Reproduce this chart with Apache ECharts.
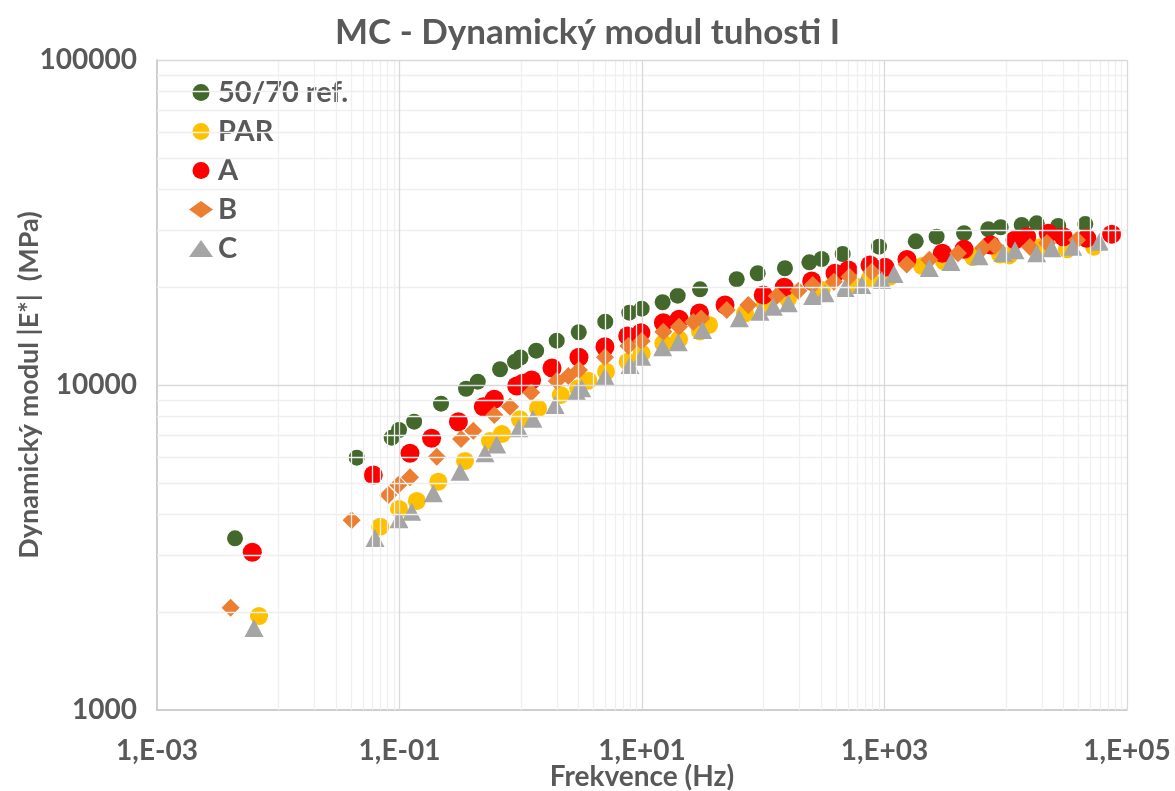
<!DOCTYPE html>
<html><head><meta charset="utf-8">
<script src="https://cdn.jsdelivr.net/npm/echarts@6/dist/echarts.min.js"></script>
<style>html,body{margin:0;padding:0;background:#fff}#c{width:1175px;height:791px}</style>
</head><body><div id="c"></div><script>
// ---- data ----
const chartTitle = 'MC - Dynamický modul tuhosti I';
const xAxisName = 'Frekvence (Hz)';
const yAxisName = 'Dynamický modul |E*|  (MPa)';
const seriesNames = ['50/70 ref.', 'PAR', 'A', 'B', 'C'];

const refFreq = [0.0044, 0.0444, 0.0862, 0.0991, 0.132, 0.220, 0.354, 0.442, 0.675, 0.897, 0.995, 1.34, 1.98, 3.01, 4.98, 7.86, 9.94, 14.8, 19.7, 30.1, 60.4, 90.0, 151, 240, 303, 452, 901, 1810, 2690, 4530, 7180, 9080, 13540, 17990, 27100, 45300];
const refMod  = [3375, 5975, 6884, 7270, 7710, 8760, 9740, 10240, 11180, 11800, 12150, 12750, 13690, 14530, 15660, 16690, 17170, 17970, 18830, 19700, 21150, 22070, 22870, 23850, 24420, 25300, 26640, 27680, 28600, 29300, 30140, 30570, 31070, 31440, 30850, 31280];

const parFreq = [0.00694, 0.0694, 0.0991, 0.139, 0.209, 0.347, 0.558, 0.700, 0.986, 1.39, 2.14, 2.98, 3.61, 5.05, 7.62, 9.94, 15.0, 20.2, 30.1, 35.7, 70.7, 103, 160, 303, 553, 759, 1110, 2040, 3100, 5370, 8970, 10640, 18800, 32000, 53430];
const parMod  = [1946, 3664, 4155, 4397, 5040, 5837, 6725, 7067, 7843, 8467, 9316, 9768, 10310, 10990, 11800, 12520, 13440, 13820, 14610, 15300, 16620, 17630, 18390, 19600, 20320, 21300, 21540, 23240, 23990, 24760, 25200, 25030, 26490, 26150, 26640];

const aFreq = [0.00611, 0.0608, 0.122, 0.184, 0.306, 0.491, 0.605, 0.926, 1.04, 1.23, 1.81, 3.02, 4.95, 7.62, 9.81, 15.0, 20.2, 29.8, 48.4, 100, 149, 251, 391, 503, 759, 1009, 1533, 3000, 4530, 7520, 11920, 14890, 22440, 29830, 46520, 74770];
const aMod  = [3057, 5285, 6164, 6855, 7710, 8575, 9037, 9930, 10120, 10360, 11280, 12170, 13120, 14150, 14480, 15550, 15930, 16660, 17630, 18920, 19980, 20890, 22070, 22590, 23400, 23030, 24330, 25420, 26150, 26960, 27940, 28600, 29300, 28600, 28280, 29090];

const bFreq = [0.00405, 0.0403, 0.0808, 0.0977, 0.122, 0.203, 0.322, 0.406, 0.605, 0.815, 1.22, 1.98, 2.47, 3.02, 4.95, 7.71, 9.94, 15.0, 20.2, 26.5, 30.7, 50.0, 75.3, 129, 195, 256, 383, 513, 784, 1524, 2342, 4038, 6494, 8152, 15850, 21890, 38690];
const bMod  = [2064, 3835, 4586, 4923, 5200, 6018, 6820, 7235, 8085, 8575, 9483, 10290, 10660, 11120, 12170, 13180, 13660, 14590, 15110, 15620, 16020, 17010, 17630, 18790, 19510, 20320, 20790, 21540, 22320, 23490, 24290, 25420, 26400, 26780, 26590, 27350, 27940];

const cFreq = [0.00631, 0.0628, 0.0991, 0.126, 0.190, 0.316, 0.507, 0.633, 0.964, 1.26, 1.92, 2.89, 3.18, 4.95, 7.96, 9.94, 14.8, 19.9, 31.6, 63.5, 94.0, 121, 161, 256, 323, 472, 649, 948, 1198, 2342, 3535, 6018, 9550, 11920, 17990, 23930, 35650, 59290];
const cMod  = [1788, 3382, 3865, 4076, 4643, 5410, 6164, 6560, 7360, 7870, 8680, 9537, 9768, 10640, 11520, 12220, 13060, 13530, 14770, 16040, 16810, 17410, 17840, 18790, 19150, 19880, 20320, 21040, 21960, 22910, 23900, 24900, 25480, 25970, 25420, 26350, 26640, 27600];

const xTickValues = [1e-3, 1e-1, 1e1, 1e3, 1e5];
const xTickLabels = ['1,E-03', '1,E-01', '1,E+01', '1,E+03', '1,E+05'];
const yTickValues = [1000, 10000, 100000];
const yTickLabels = ['1000', '10000', '100000'];

// ---- styling ----
const FONT = 'Lato';
const TXT = '#595959';
const colors = ['#44682C', '#FFC000', '#FF0000', '#ED7D31', '#A5A5A5'];
const symbols = ['circle', 'circle', 'circle', 'diamond', 'triangle'];
const sizes = [16, 18, 19, [18, 18], [19, 18]];

const zip = (a, b) => a.map((v, i) => [v, b[i]]);
const dataSets = [zip(refFreq, refMod), zip(parFreq, parMod), zip(aFreq, aMod), zip(bFreq, bMod), zip(cFreq, cMod)];

// grid lines (Excel style log grid)
const vMajor = [1e-1, 1e1, 1e3, 1e5];
const vMinor = [];
[-2, 0, 2, 4].forEach(k => { for (let m = 1; m <= 9; m++) vMinor.push(m * Math.pow(10, k)); });
const hMajor = [1e4, 1e5];
const hMinor = [];
[3, 4].forEach(k => { for (let m = 2; m <= 9; m++) hMinor.push(m * Math.pow(10, k)); });
const minorStyle = { color: '#efefef', width: 1.3, type: 'solid' };
const majorStyle = { color: '#d9d9d9', width: 1.3, type: 'solid' };
const gridLineData = [
  ...vMinor.map(v => ({ xAxis: v, lineStyle: minorStyle })),
  ...hMinor.map(v => ({ yAxis: v, lineStyle: minorStyle })),
  ...vMajor.map(v => ({ xAxis: v, lineStyle: majorStyle })),
  ...hMajor.map(v => ({ yAxis: v, lineStyle: majorStyle }))
];

function labelFor(values, labels, v) {
  const lv = Math.log10(v);
  for (let i = 0; i < values.length; i++) {
    if (Math.abs(Math.log10(values[i]) - lv) < 1e-6) return labels[i];
  }
  return '';
}

const chart = echarts.init(document.getElementById('c'), null, { renderer: 'canvas' });
chart.setOption({
  animation: false,
  backgroundColor: '#ffffff',
  textStyle: { fontFamily: FONT },
  title: {
    text: chartTitle, left: 'center', top: 10,
    textStyle: { fontFamily: FONT, fontSize: 35, fontWeight: 'bold', color: TXT }
  },
  legend: {
    data: seriesNames, orient: 'vertical', left: 184, top: 73,
    itemWidth: 24, itemHeight: 17, itemGap: 10,
    textStyle: { fontFamily: FONT, fontSize: 29, fontWeight: 'bold', color: TXT }
  },
  grid: { left: 157, right: 48, top: 60, bottom: 81, containLabel: false, outerBoundsMode: 'none' },
  xAxis: {
    type: 'log', logBase: 10, min: 1e-3, max: 1e5, interval: 1, splitNumber: 8,
    name: xAxisName, nameLocation: 'middle', nameGap: 53, nameMoveOverlap: false,
    nameTextStyle: { fontFamily: FONT, fontSize: 28, fontWeight: 'bold', color: TXT },
    axisLine: { show: true, lineStyle: { color: '#bfbfbf', width: 1.5 } },
    axisTick: { show: false },
    splitLine: { show: false }, minorSplitLine: { show: false },
    axisLabel: {
      margin: 27, fontFamily: FONT, fontSize: 28, fontWeight: 'bold', color: TXT,
      showMinLabel: true, showMaxLabel: true,
      formatter: v => labelFor(xTickValues, xTickLabels, v)
    }
  },
  yAxis: {
    type: 'log', logBase: 10, min: 1000, max: 100000, interval: 1,
    name: yAxisName, nameLocation: 'middle', nameGap: 114, nameMoveOverlap: false,
    nameTextStyle: { fontFamily: FONT, fontSize: 27, fontWeight: 'bold', color: TXT },
    axisLine: { show: true, lineStyle: { color: '#bfbfbf', width: 1.5 } },
    axisTick: { show: false },
    splitLine: { show: false },
    axisLabel: {
      margin: 20, fontFamily: FONT, fontSize: 28, fontWeight: 'bold', color: TXT,
      showMinLabel: true, showMaxLabel: true,
      formatter: v => labelFor(yTickValues, yTickLabels, v)
    }
  },
  series: [
    {
      name: '__grid', type: 'scatter', data: [], z: 1, silent: true,
      markLine: { silent: true, symbol: ['none', 'none'], label: { show: false }, animation: false, data: gridLineData }
    },
    ...seriesNames.map((n, i) => ({
      name: n, type: 'scatter', data: dataSets[i], z: 2,
      symbol: symbols[i], symbolSize: sizes[i],
      itemStyle: { color: colors[i], opacity: 1 }
    }))
  ]
});
</script></body></html>
